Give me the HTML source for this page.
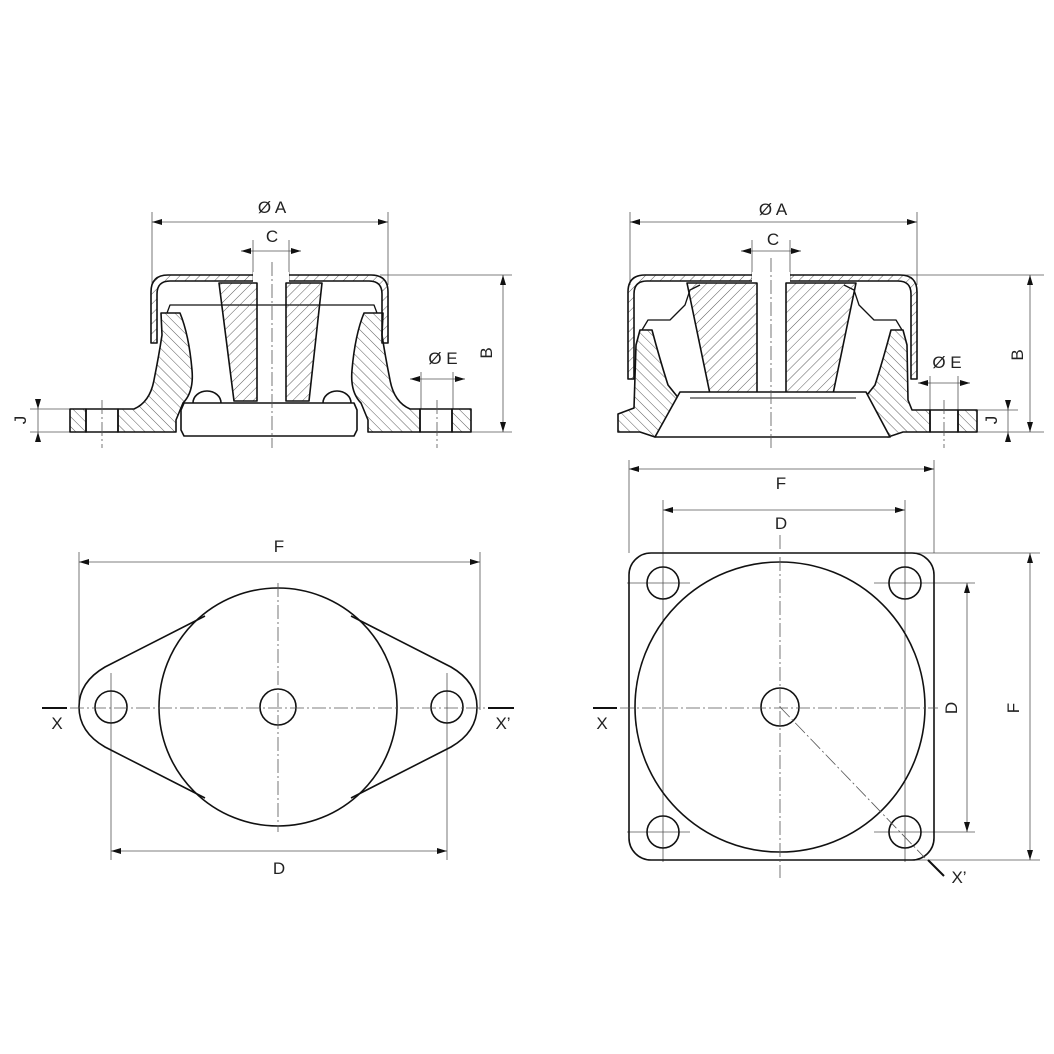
<!DOCTYPE html>
<html><head><meta charset="utf-8"><style>
html,body{margin:0;padding:0;background:#fff}
svg{display:block}
text{font-family:"Liberation Sans",sans-serif;font-size:17px;fill:#222}
</style></head><body>
<svg width="1054" height="1054" viewBox="0 0 1054 1054" xmlns="http://www.w3.org/2000/svg">
<defs>
<pattern id="h1" width="7" height="7" patternUnits="userSpaceOnUse" patternTransform="rotate(45)"><line x1="0" y1="0" x2="0" y2="7" stroke="#333" stroke-width="0.8"/></pattern>
<pattern id="h2" width="7" height="7" patternUnits="userSpaceOnUse" patternTransform="rotate(-45)"><line x1="0" y1="0" x2="0" y2="7" stroke="#333" stroke-width="0.8"/></pattern>
<marker id="a" viewBox="0 0 10 6" refX="10" refY="3" markerWidth="10" markerHeight="6" orient="auto-start-reverse" markerUnits="userSpaceOnUse"><path d="M0,0 L10,3 L0,6 Z" fill="#111"/></marker>
</defs>

<g fill="none" stroke="#555" stroke-width="0.8">
<line x1="152" y1="212" x2="152" y2="285"/><line x1="388" y1="212" x2="388" y2="285"/>
<line x1="152" y1="222" x2="388" y2="222" marker-start="url(#a)" marker-end="url(#a)"/>
<line x1="253" y1="240" x2="253" y2="281"/><line x1="289" y1="240" x2="289" y2="281"/>
<line x1="241" y1="251" x2="253" y2="251" marker-start="url(#a)"/><line x1="253" y1="251" x2="289" y2="251"/><line x1="289" y1="251" x2="301" y2="251" marker-end="url(#a)"/>
<line x1="380" y1="275" x2="512" y2="275"/><line x1="471" y1="432" x2="512" y2="432"/>
<line x1="503" y1="275" x2="503" y2="432" marker-start="url(#a)" marker-end="url(#a)"/>
<line x1="30" y1="409" x2="70" y2="409"/><line x1="30" y1="432" x2="70" y2="432"/>
<line x1="38" y1="399" x2="38" y2="409" marker-end="url(#a)"/><line x1="38" y1="442" x2="38" y2="432" marker-end="url(#a)"/><line x1="38" y1="409" x2="38" y2="432"/>
<line x1="421" y1="372" x2="421" y2="409"/><line x1="453" y1="372" x2="453" y2="409"/>
<line x1="410" y1="379" x2="421" y2="379" marker-start="url(#a)"/><line x1="421" y1="379" x2="453" y2="379"/><line x1="453" y1="379" x2="465" y2="379" marker-end="url(#a)"/>
<line x1="630" y1="212" x2="630" y2="285"/><line x1="917" y1="212" x2="917" y2="285"/>
<line x1="630" y1="222" x2="917" y2="222" marker-start="url(#a)" marker-end="url(#a)"/>
<line x1="752" y1="240" x2="752" y2="281"/><line x1="790" y1="240" x2="790" y2="281"/>
<line x1="741" y1="251" x2="752" y2="251" marker-start="url(#a)"/><line x1="752" y1="251" x2="790" y2="251"/><line x1="790" y1="251" x2="801" y2="251" marker-end="url(#a)"/>
<line x1="900" y1="275" x2="1044" y2="275"/><line x1="977" y1="432" x2="1044" y2="432"/>
<line x1="1030" y1="275" x2="1030" y2="432" marker-start="url(#a)" marker-end="url(#a)"/>
<line x1="977" y1="410" x2="1018" y2="410"/>
<line x1="1008" y1="400" x2="1008" y2="410" marker-end="url(#a)"/><line x1="1008" y1="442" x2="1008" y2="432" marker-end="url(#a)"/><line x1="1008" y1="410" x2="1008" y2="432"/>
<line x1="930" y1="376" x2="930" y2="410"/><line x1="958" y1="376" x2="958" y2="410"/>
<line x1="918" y1="383" x2="930" y2="383" marker-start="url(#a)"/><line x1="930" y1="383" x2="958" y2="383"/><line x1="958" y1="383" x2="970" y2="383" marker-end="url(#a)"/>
</g>

<g stroke="#111" stroke-width="1.6" stroke-linejoin="round">
<path d="M151,343 L151,292 Q151,275 168,275 L371,275 Q388,275 388,292 L388,343 L382,343 L382,294 Q382,281 369,281 L170,281 Q157,281 157,294 L157,343 Z" fill="url(#h1)"/>
<rect x="253" y="272" width="36" height="10" fill="#fff" stroke="none"/>
<path d="M167,313 L170,305 L374,305 L377,313" fill="none" stroke-width="1.3"/>
<path d="M219,283 L257,283 L257,401 L234,401 Z" fill="url(#h1)"/>
<path d="M286,283 L322,283 L309,401 L286,401 Z" fill="url(#h1)"/>
<path d="M161,313 L180,313 Q189,335 192,370 Q194,392 183,403 L176,420 L176,432 L118,432 L118,409 L134,409 Q150,402 154,380 Q159,355 162,335 Z" fill="url(#h2)"/>
<path d="M383,313 L364,313 Q355,335 352,370 Q350,392 361,403 L368,420 L368,432 L420,432 L420,409 L410,409 Q394,402 390,380 Q385,355 382,335 Z" fill="url(#h2)"/>
<rect x="70" y="409" width="16" height="23" fill="url(#h2)"/>
<rect x="452" y="409" width="19" height="23" fill="url(#h2)"/>
<rect x="86" y="409" width="32" height="23" fill="none"/>
<rect x="420" y="409" width="32" height="23" fill="none"/>
<path d="M193,403 A14,12 0 0 1 221,403 M323,403 A14,12 0 0 1 351,403" fill="#fff"/>
<path d="M184,403 L354,403 L357,410 L357,430 L354,436 L184,436 L181,430 L181,410 Z" fill="#fff"/>
</g>
<g stroke="#555" stroke-width="0.8" stroke-dasharray="14,3,2,3" fill="none">
<line x1="272" y1="262" x2="272" y2="448"/><line x1="102" y1="400" x2="102" y2="448"/><line x1="437" y1="400" x2="437" y2="448"/>
</g>

<g stroke="#111" stroke-width="1.6" stroke-linejoin="round">
<path d="M628,379 L628,292 Q628,275 645,275 L900,275 Q917,275 917,292 L917,379 L911,379 L911,294 Q911,281 898,281 L647,281 Q634,281 634,294 L634,379 Z" fill="url(#h1)"/>
<rect x="752" y="272" width="38" height="10" fill="#fff" stroke="none"/>
<path d="M642,330 L648,320 L670,320 L685,305 L690,290 L700,285 M902,330 L896,320 L874,320 L859,305 L854,290 L844,285" fill="none" stroke-width="1.3"/>
<path d="M687,283 L757,283 L757,394 L710,394 Z" fill="url(#h1)"/>
<path d="M786,283 L856,283 L833,394 L786,394 Z" fill="url(#h1)"/>
<path d="M640,330 L652,330 Q660,360 668,385 L680,400 L655,437 L640,432 L618,432 L618,414 L634,408 L636,345 Z" fill="url(#h2)"/>
<path d="M903,330 L891,330 Q883,360 875,385 L863,400 L888,437 L903,432 L930,432 L930,410 L912,410 L908,400 L907,345 Z" fill="url(#h2)"/>
<rect x="958" y="410" width="19" height="22" fill="url(#h2)"/>
<rect x="930" y="410" width="28" height="22" fill="none"/>
<path d="M680,392 L866,392 L890,437 L655,437 Z" fill="#fff"/>
<path d="M690,398 L856,398" fill="none" stroke-width="1"/>
</g>
<g stroke="#555" stroke-width="0.8" stroke-dasharray="14,3,2,3" fill="none">
<line x1="771" y1="258" x2="771" y2="450"/><line x1="944" y1="400" x2="944" y2="448"/>
</g>

<g fill="none" stroke="#555" stroke-width="0.8">
<line x1="79" y1="552" x2="79" y2="710"/><line x1="480" y1="552" x2="480" y2="710"/>
<line x1="79" y1="562" x2="480" y2="562" marker-start="url(#a)" marker-end="url(#a)"/>
<line x1="111" y1="673" x2="111" y2="860"/><line x1="447" y1="673" x2="447" y2="860"/>
<line x1="111" y1="851" x2="447" y2="851" marker-start="url(#a)" marker-end="url(#a)"/>
</g>
<g fill="none" stroke="#111" stroke-width="1.6">
<path d="M205,616 L105,667 Q79,682 79,707 Q79,732 105,747 L205,798"/>
<path d="M351,616 L451,667 Q477,682 477,707 Q477,732 451,747 L351,798"/>
<circle cx="278" cy="707" r="119"/>
<circle cx="278" cy="707" r="18"/>
<circle cx="111" cy="707" r="16"/><circle cx="447" cy="707" r="16"/>
<line x1="42" y1="708" x2="67" y2="708" stroke-width="2"/><line x1="488" y1="708" x2="514" y2="708" stroke-width="2"/>
</g>
<g stroke="#555" stroke-width="0.8" stroke-dasharray="14,3,2,3" fill="none">
<line x1="70" y1="708" x2="486" y2="708"/><line x1="278" y1="583" x2="278" y2="832"/>
</g>

<g fill="none" stroke="#555" stroke-width="0.8">
<line x1="629" y1="460" x2="629" y2="553"/><line x1="934" y1="460" x2="934" y2="553"/>
<line x1="629" y1="469" x2="934" y2="469" marker-start="url(#a)" marker-end="url(#a)"/>
<line x1="663" y1="500" x2="663" y2="862"/><line x1="905" y1="500" x2="905" y2="862"/>
<line x1="663" y1="510" x2="905" y2="510" marker-start="url(#a)" marker-end="url(#a)"/>
<line x1="874" y1="583" x2="975" y2="583"/><line x1="874" y1="832" x2="975" y2="832"/>
<line x1="967" y1="583" x2="967" y2="832" marker-start="url(#a)" marker-end="url(#a)"/>
<line x1="915" y1="553" x2="1040" y2="553"/><line x1="915" y1="860" x2="1040" y2="860"/>
<line x1="1030" y1="553" x2="1030" y2="860" marker-start="url(#a)" marker-end="url(#a)"/>
<line x1="627" y1="583" x2="690" y2="583"/><line x1="627" y1="832" x2="690" y2="832"/>
</g>
<g fill="none" stroke="#111" stroke-width="1.6">
<rect x="629" y="553" width="305" height="307" rx="22" ry="22"/>
<circle cx="780" cy="707" r="145"/>
<circle cx="780" cy="707" r="19"/>
<circle cx="663" cy="583" r="16"/><circle cx="905" cy="583" r="16"/>
<circle cx="663" cy="832" r="16"/><circle cx="905" cy="832" r="16"/>
<line x1="593" y1="708" x2="617" y2="708" stroke-width="2"/>
<line x1="928" y1="860" x2="944" y2="876" stroke-width="2"/>
</g>
<g stroke="#555" stroke-width="0.8" stroke-dasharray="14,3,2,3" fill="none">
<line x1="620" y1="708" x2="938" y2="708"/><line x1="780" y1="535" x2="780" y2="878"/>
<line x1="780" y1="707" x2="925" y2="858"/>
</g>

<text x="272" y="213" text-anchor="middle">Ø A</text>
<text x="272" y="242" text-anchor="middle">C</text>
<text x="443" y="364" text-anchor="middle">Ø E</text>
<text transform="translate(492,353) rotate(-90)" text-anchor="middle">B</text>
<text transform="translate(26,420) rotate(-90)" text-anchor="middle">J</text>
<text x="773" y="215" text-anchor="middle">Ø A</text>
<text x="773" y="245" text-anchor="middle">C</text>
<text x="947" y="368" text-anchor="middle">Ø E</text>
<text transform="translate(1023,355) rotate(-90)" text-anchor="middle">B</text>
<text transform="translate(997,420) rotate(-90)" text-anchor="middle">J</text>
<text x="279" y="552" text-anchor="middle">F</text>
<text x="279" y="874" text-anchor="middle">D</text>
<text x="57" y="729" text-anchor="middle">X</text>
<text x="503" y="729" text-anchor="middle">X’</text>
<text x="781" y="489" text-anchor="middle">F</text>
<text x="781" y="529" text-anchor="middle">D</text>
<text transform="translate(957,708) rotate(-90)" text-anchor="middle">D</text>
<text transform="translate(1019,708) rotate(-90)" text-anchor="middle">F</text>
<text x="602" y="729" text-anchor="middle">X</text>
<text x="959" y="883" text-anchor="middle">X’</text>
</svg>
</body></html>
